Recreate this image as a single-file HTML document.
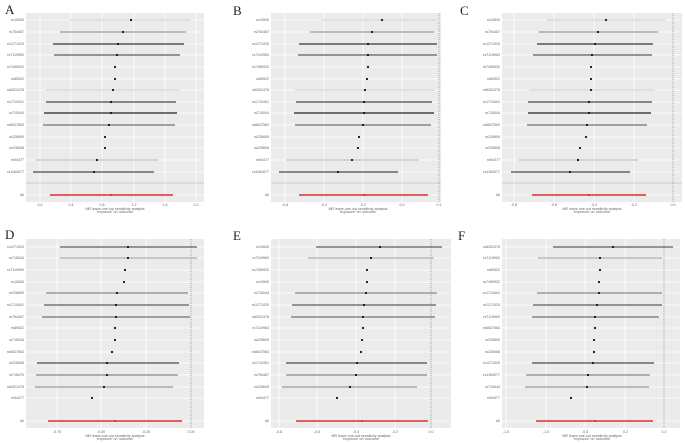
<!DOCTYPE html>
<html><head><meta charset="utf-8"><style>
html,body{margin:0;padding:0;background:#fff;width:685px;height:443px;overflow:hidden}
text{font-family:"Liberation Sans",sans-serif}
.l{font-size:3.6px;fill:#666;text-anchor:end}
.t{font-size:3.6px;fill:#666;text-anchor:middle}
.h{font-family:"Liberation Serif",serif;font-size:13px;fill:#222}
.g line{stroke:#fff;stroke-width:0.8}
.d{stroke:#888;stroke-width:0.7;stroke-dasharray:1,1}
.s{stroke:#ccc;stroke-width:1}
.c{stroke-width:1.4}
</style></head><body>
<svg width="685" height="443" viewBox="0 0 685 443" xmlns="http://www.w3.org/2000/svg">
<text class="h" x="5" y="14">A</text>
<text class="h" x="233" y="15">B</text>
<text class="h" x="460" y="15">C</text>
<text class="h" x="5" y="239">D</text>
<text class="h" x="233" y="240">E</text>
<text class="h" x="458" y="240">F</text>

<!-- Panel A -->
<g transform="translate(0,0)">
<rect x="26" y="13" width="178" height="189" fill="#ebebeb"/>
<g class="g"><line x1="40" y1="13" x2="40" y2="202"/><line x1="71" y1="13" x2="71" y2="202"/><line x1="102" y1="13" x2="102" y2="202"/><line x1="134" y1="13" x2="134" y2="202"/><line x1="165" y1="13" x2="165" y2="202"/><line x1="196" y1="13" x2="196" y2="202"/>
<line x1="26" y1="20" x2="204" y2="20"/><line x1="26" y1="32" x2="204" y2="32"/><line x1="26" y1="44" x2="204" y2="44"/><line x1="26" y1="55" x2="204" y2="55"/><line x1="26" y1="67" x2="204" y2="67"/><line x1="26" y1="79" x2="204" y2="79"/><line x1="26" y1="90" x2="204" y2="90"/><line x1="26" y1="102" x2="204" y2="102"/><line x1="26" y1="113" x2="204" y2="113"/><line x1="26" y1="125" x2="204" y2="125"/><line x1="26" y1="137" x2="204" y2="137"/><line x1="26" y1="148" x2="204" y2="148"/><line x1="26" y1="160" x2="204" y2="160"/><line x1="26" y1="172" x2="204" y2="172"/><line x1="26" y1="195" x2="204" y2="195"/></g>
<line class="s" x1="26" y1="183" x2="204" y2="183"/>
<g class="c"><line x1="70" y1="20" x2="191" y2="20" stroke="#ddd"/><line x1="60" y1="32" x2="186" y2="32" stroke="#aaa"/><line x1="53" y1="44" x2="184" y2="44" stroke="#555"/><line x1="54" y1="55" x2="180" y2="55" stroke="#777"/><line x1="46" y1="90" x2="180" y2="90" stroke="#ddd"/><line x1="46" y1="102" x2="176" y2="102" stroke="#666"/><line x1="44" y1="113" x2="177" y2="113" stroke="#444"/><line x1="43" y1="125" x2="175" y2="125" stroke="#888"/><line x1="36" y1="160" x2="158" y2="160" stroke="#ccc"/><line x1="33" y1="172" x2="154" y2="172" stroke="#666"/><line x1="50" y1="195" x2="173" y2="195" stroke="#d33"/></g>
<g fill="#111"><circle cx="131" cy="20" r="1.1"/><circle cx="123" cy="32" r="1.1"/><circle cx="118" cy="44" r="1.1"/><circle cx="117" cy="55" r="1.1"/><circle cx="115" cy="67" r="1.1"/><circle cx="115" cy="79" r="1.1"/><circle cx="113" cy="90" r="1.1"/><circle cx="111" cy="102" r="1.1"/><circle cx="111" cy="113" r="1.1"/><circle cx="109" cy="125" r="1.1"/><circle cx="105" cy="137" r="1.1"/><circle cx="105" cy="148" r="1.1"/><circle cx="97" cy="160" r="1.1"/><circle cx="94" cy="172" r="1.1"/><circle cx="111" cy="195" r="1.1" fill="#d33"/></g>
<text class="l" x="24" y="21">rs10840</text><text class="l" x="24" y="33">rs754467</text><text class="l" x="24" y="45">rs1271020</text><text class="l" x="24" y="56">rs7119963</text><text class="l" x="24" y="68">rs7455932</text><text class="l" x="24" y="80">rs89522</text><text class="l" x="24" y="91">rs6322476</text><text class="l" x="24" y="103">rs1710401</text><text class="l" x="24" y="114">rs715044</text><text class="l" x="24" y="126">rs6637563</text><text class="l" x="24" y="138">rs226609</text><text class="l" x="24" y="149">rs226608</text><text class="l" x="24" y="161">rs94477</text><text class="l" x="24" y="173">rs1164077</text><text class="l" x="24" y="196">All</text>
<text class="t" x="40" y="206">0.0</text><text class="t" x="71" y="206">0.4</text><text class="t" x="102" y="206">0.8</text><text class="t" x="134" y="206">1.2</text><text class="t" x="165" y="206">1.6</text><text class="t" x="196" y="206">2.0</text>
<text class="t" x="115" y="210">MR leave-one-out sensitivity analysis</text><text class="t" x="115" y="213">'exposure' on 'outcome'</text>
</g>

<!-- Panel B -->
<g transform="translate(228,0)">
<rect x="43" y="13" width="170" height="189" fill="#ebebeb"/>
<g class="g"><line x1="57" y1="13" x2="57" y2="202"/><line x1="96" y1="13" x2="96" y2="202"/><line x1="135" y1="13" x2="135" y2="202"/><line x1="174" y1="13" x2="174" y2="202"/>
<line x1="43" y1="20" x2="213" y2="20"/><line x1="43" y1="32" x2="213" y2="32"/><line x1="43" y1="44" x2="213" y2="44"/><line x1="43" y1="55" x2="213" y2="55"/><line x1="43" y1="67" x2="213" y2="67"/><line x1="43" y1="79" x2="213" y2="79"/><line x1="43" y1="90" x2="213" y2="90"/><line x1="43" y1="102" x2="213" y2="102"/><line x1="43" y1="113" x2="213" y2="113"/><line x1="43" y1="125" x2="213" y2="125"/><line x1="43" y1="137" x2="213" y2="137"/><line x1="43" y1="148" x2="213" y2="148"/><line x1="43" y1="160" x2="213" y2="160"/><line x1="43" y1="172" x2="213" y2="172"/><line x1="43" y1="195" x2="213" y2="195"/></g>
<line class="s" x1="43" y1="183" x2="213" y2="183"/>
<line class="d" x1="211" y1="13" x2="211" y2="202"/>
<g class="c"><line x1="93" y1="20" x2="209" y2="20" stroke="#ddd"/><line x1="82" y1="32" x2="206" y2="32" stroke="#aaa"/><line x1="71" y1="44" x2="209" y2="44" stroke="#555"/><line x1="70" y1="55" x2="209" y2="55" stroke="#777"/><line x1="67" y1="90" x2="206" y2="90" stroke="#ddd"/><line x1="68" y1="102" x2="204" y2="102" stroke="#666"/><line x1="66" y1="113" x2="206" y2="113" stroke="#444"/><line x1="67" y1="125" x2="203" y2="125" stroke="#888"/><line x1="58" y1="160" x2="191" y2="160" stroke="#ccc"/><line x1="51" y1="172" x2="170" y2="172" stroke="#666"/><line x1="71" y1="195" x2="200" y2="195" stroke="#d33"/></g>
<g fill="#111"><circle cx="154" cy="20" r="1.1"/><circle cx="144" cy="32" r="1.1"/><circle cx="140" cy="44" r="1.1"/><circle cx="140" cy="55" r="1.1"/><circle cx="140" cy="67" r="1.1"/><circle cx="139" cy="79" r="1.1"/><circle cx="137" cy="90" r="1.1"/><circle cx="136" cy="102" r="1.1"/><circle cx="136" cy="113" r="1.1"/><circle cx="135" cy="125" r="1.1"/><circle cx="131" cy="137" r="1.1"/><circle cx="130" cy="148" r="1.1"/><circle cx="124" cy="160" r="1.1"/><circle cx="110" cy="172" r="1.1"/><circle cx="136" cy="195" r="1.1" fill="#d33"/></g>
<text class="l" x="41" y="21">rs10840</text><text class="l" x="41" y="33">rs754467</text><text class="l" x="41" y="45">rs1271020</text><text class="l" x="41" y="56">rs7119963</text><text class="l" x="41" y="68">rs7455932</text><text class="l" x="41" y="80">rs89522</text><text class="l" x="41" y="91">rs6322476</text><text class="l" x="41" y="103">rs1710401</text><text class="l" x="41" y="114">rs715044</text><text class="l" x="41" y="126">rs6637563</text><text class="l" x="41" y="138">rs226609</text><text class="l" x="41" y="149">rs226608</text><text class="l" x="41" y="161">rs94477</text><text class="l" x="41" y="173">rs1164077</text><text class="l" x="41" y="196">All</text>
<text class="t" x="57" y="206">-0.6</text><text class="t" x="96" y="206">-0.4</text><text class="t" x="135" y="206">-0.2</text><text class="t" x="174" y="206">0.0</text><text class="t" x="211" y="206">0.1</text>
<text class="t" x="130" y="210">MR leave-one-out sensitivity analysis</text><text class="t" x="130" y="213">'exposure' on 'outcome'</text>
</g>

<!-- Panel C -->
<g transform="translate(455,0)">
<rect x="47" y="13" width="180" height="189" fill="#ebebeb"/>
<g class="g"><line x1="59" y1="13" x2="59" y2="202"/><line x1="99" y1="13" x2="99" y2="202"/><line x1="139" y1="13" x2="139" y2="202"/><line x1="179" y1="13" x2="179" y2="202"/>
<line x1="47" y1="20" x2="227" y2="20"/><line x1="47" y1="32" x2="227" y2="32"/><line x1="47" y1="44" x2="227" y2="44"/><line x1="47" y1="55" x2="227" y2="55"/><line x1="47" y1="67" x2="227" y2="67"/><line x1="47" y1="79" x2="227" y2="79"/><line x1="47" y1="90" x2="227" y2="90"/><line x1="47" y1="102" x2="227" y2="102"/><line x1="47" y1="113" x2="227" y2="113"/><line x1="47" y1="125" x2="227" y2="125"/><line x1="47" y1="137" x2="227" y2="137"/><line x1="47" y1="148" x2="227" y2="148"/><line x1="47" y1="160" x2="227" y2="160"/><line x1="47" y1="172" x2="227" y2="172"/><line x1="47" y1="195" x2="227" y2="195"/></g>
<line class="s" x1="47" y1="183" x2="227" y2="183"/>
<line class="d" x1="218" y1="13" x2="218" y2="202"/>
<g class="c"><line x1="92" y1="20" x2="210" y2="20" stroke="#ddd"/><line x1="84" y1="32" x2="203" y2="32" stroke="#aaa"/><line x1="82" y1="44" x2="198" y2="44" stroke="#555"/><line x1="78" y1="55" x2="197" y2="55" stroke="#777"/><line x1="74" y1="90" x2="200" y2="90" stroke="#ddd"/><line x1="73" y1="102" x2="197" y2="102" stroke="#666"/><line x1="73" y1="113" x2="196" y2="113" stroke="#444"/><line x1="72" y1="125" x2="192" y2="125" stroke="#888"/><line x1="64" y1="160" x2="183" y2="160" stroke="#ccc"/><line x1="56" y1="172" x2="175" y2="172" stroke="#666"/><line x1="77" y1="195" x2="191" y2="195" stroke="#d33"/></g>
<g fill="#111"><circle cx="151" cy="20" r="1.1"/><circle cx="143" cy="32" r="1.1"/><circle cx="140" cy="44" r="1.1"/><circle cx="137" cy="55" r="1.1"/><circle cx="136" cy="67" r="1.1"/><circle cx="136" cy="79" r="1.1"/><circle cx="136" cy="90" r="1.1"/><circle cx="134" cy="102" r="1.1"/><circle cx="134" cy="113" r="1.1"/><circle cx="132" cy="125" r="1.1"/><circle cx="131" cy="137" r="1.1"/><circle cx="125" cy="148" r="1.1"/><circle cx="123" cy="160" r="1.1"/><circle cx="115" cy="172" r="1.1"/><circle cx="134" cy="195" r="1.1" fill="#d33"/></g>
<text class="l" x="45" y="21">rs10840</text><text class="l" x="45" y="33">rs754467</text><text class="l" x="45" y="45">rs1271020</text><text class="l" x="45" y="56">rs7119963</text><text class="l" x="45" y="68">rs7455932</text><text class="l" x="45" y="80">rs89522</text><text class="l" x="45" y="91">rs6322476</text><text class="l" x="45" y="103">rs1710401</text><text class="l" x="45" y="114">rs715044</text><text class="l" x="45" y="126">rs6637563</text><text class="l" x="45" y="138">rs226609</text><text class="l" x="45" y="149">rs226608</text><text class="l" x="45" y="161">rs94477</text><text class="l" x="45" y="173">rs1164077</text><text class="l" x="45" y="196">All</text>
<text class="t" x="59" y="206">-0.8</text><text class="t" x="99" y="206">-0.6</text><text class="t" x="139" y="206">-0.4</text><text class="t" x="179" y="206">-0.2</text><text class="t" x="218" y="206">0.0</text>
<text class="t" x="137" y="210">MR leave-one-out sensitivity analysis</text><text class="t" x="137" y="213">'exposure' on 'outcome'</text>
</g>

<!-- Panel D -->
<g transform="translate(0,225)">
<rect x="26" y="14" width="178" height="189" fill="#ebebeb"/>
<g class="g"><line x1="57" y1="14" x2="57" y2="203"/><line x1="101" y1="14" x2="101" y2="203"/><line x1="146" y1="14" x2="146" y2="203"/>
<line x1="26" y1="22" x2="204" y2="22"/><line x1="26" y1="33" x2="204" y2="33"/><line x1="26" y1="45" x2="204" y2="45"/><line x1="26" y1="57" x2="204" y2="57"/><line x1="26" y1="68" x2="204" y2="68"/><line x1="26" y1="80" x2="204" y2="80"/><line x1="26" y1="92" x2="204" y2="92"/><line x1="26" y1="103" x2="204" y2="103"/><line x1="26" y1="115" x2="204" y2="115"/><line x1="26" y1="127" x2="204" y2="127"/><line x1="26" y1="138" x2="204" y2="138"/><line x1="26" y1="150" x2="204" y2="150"/><line x1="26" y1="162" x2="204" y2="162"/><line x1="26" y1="173" x2="204" y2="173"/><line x1="26" y1="196" x2="204" y2="196"/></g>
<line class="d" x1="191" y1="14" x2="191" y2="203"/>
<g class="c"><line x1="60" y1="22" x2="197" y2="22" stroke="#777"/><line x1="60" y1="33" x2="197" y2="33" stroke="#bbb"/><line x1="46" y1="68" x2="188" y2="68" stroke="#999"/><line x1="44" y1="80" x2="189" y2="80" stroke="#777"/><line x1="42" y1="92" x2="190" y2="92" stroke="#888"/><line x1="37" y1="138" x2="179" y2="138" stroke="#666"/><line x1="36" y1="150" x2="178" y2="150" stroke="#999"/><line x1="35" y1="162" x2="173" y2="162" stroke="#aaa"/><line x1="48" y1="196" x2="182" y2="196" stroke="#d33"/></g>
<g fill="#111"><circle cx="128" cy="22" r="1.1"/><circle cx="128" cy="33" r="1.1"/><circle cx="125" cy="45" r="1.1"/><circle cx="124" cy="57" r="1.1"/><circle cx="117" cy="68" r="1.1"/><circle cx="116" cy="80" r="1.1"/><circle cx="116" cy="92" r="1.1"/><circle cx="115" cy="103" r="1.1"/><circle cx="115" cy="115" r="1.1"/><circle cx="112" cy="127" r="1.1"/><circle cx="107" cy="138" r="1.1"/><circle cx="107" cy="150" r="1.1"/><circle cx="104" cy="162" r="1.1"/><circle cx="92" cy="173" r="1.1"/><circle cx="115" cy="196" r="1.1" fill="#d33"/></g>
<text class="l" x="24" y="23">rs1271020</text><text class="l" x="24" y="34">rs715044</text><text class="l" x="24" y="46">rs7119963</text><text class="l" x="24" y="58">rs10840</text><text class="l" x="24" y="69">rs226609</text><text class="l" x="24" y="81">rs1710401</text><text class="l" x="24" y="93">rs754467</text><text class="l" x="24" y="104">rs89522</text><text class="l" x="24" y="116">rs715044</text><text class="l" x="24" y="128">rs6637563</text><text class="l" x="24" y="139">rs226608</text><text class="l" x="24" y="151">rs718470</text><text class="l" x="24" y="163">rs6322476</text><text class="l" x="24" y="174">rs94477</text><text class="l" x="24" y="197">All</text>
<text class="t" x="57" y="208">-0.75</text><text class="t" x="101" y="208">-0.50</text><text class="t" x="146" y="208">-0.25</text><text class="t" x="191" y="208">0.00</text>
<text class="t" x="115" y="212">MR leave-one-out sensitivity analysis</text><text class="t" x="115" y="215">'exposure' on 'outcome'</text>
</g>

<!-- Panel E -->
<g transform="translate(228,225)">
<rect x="43" y="14" width="180" height="189" fill="#ebebeb"/>
<g class="g"><line x1="51" y1="14" x2="51" y2="203"/><line x1="89" y1="14" x2="89" y2="203"/><line x1="128" y1="14" x2="128" y2="203"/><line x1="167" y1="14" x2="167" y2="203"/>
<line x1="43" y1="22" x2="223" y2="22"/><line x1="43" y1="33" x2="223" y2="33"/><line x1="43" y1="45" x2="223" y2="45"/><line x1="43" y1="57" x2="223" y2="57"/><line x1="43" y1="68" x2="223" y2="68"/><line x1="43" y1="80" x2="223" y2="80"/><line x1="43" y1="92" x2="223" y2="92"/><line x1="43" y1="103" x2="223" y2="103"/><line x1="43" y1="115" x2="223" y2="115"/><line x1="43" y1="127" x2="223" y2="127"/><line x1="43" y1="138" x2="223" y2="138"/><line x1="43" y1="150" x2="223" y2="150"/><line x1="43" y1="162" x2="223" y2="162"/><line x1="43" y1="173" x2="223" y2="173"/><line x1="43" y1="196" x2="223" y2="196"/></g>
<line class="d" x1="203" y1="14" x2="203" y2="203"/>
<g class="c"><line x1="88" y1="22" x2="214" y2="22" stroke="#777"/><line x1="80" y1="33" x2="206" y2="33" stroke="#bbb"/><line x1="67" y1="68" x2="209" y2="68" stroke="#999"/><line x1="64" y1="80" x2="208" y2="80" stroke="#777"/><line x1="63" y1="92" x2="207" y2="92" stroke="#888"/><line x1="58" y1="138" x2="199" y2="138" stroke="#666"/><line x1="58" y1="150" x2="199" y2="150" stroke="#999"/><line x1="54" y1="162" x2="189" y2="162" stroke="#aaa"/><line x1="68" y1="196" x2="200" y2="196" stroke="#d33"/></g>
<g fill="#111"><circle cx="152" cy="22" r="1.1"/><circle cx="143" cy="33" r="1.1"/><circle cx="139" cy="45" r="1.1"/><circle cx="139" cy="57" r="1.1"/><circle cx="138" cy="68" r="1.1"/><circle cx="136" cy="80" r="1.1"/><circle cx="135" cy="92" r="1.1"/><circle cx="135" cy="103" r="1.1"/><circle cx="134" cy="115" r="1.1"/><circle cx="133" cy="127" r="1.1"/><circle cx="129" cy="138" r="1.1"/><circle cx="128" cy="150" r="1.1"/><circle cx="122" cy="162" r="1.1"/><circle cx="109" cy="173" r="1.1"/><circle cx="134" cy="196" r="1.1" fill="#d33"/></g>
<text class="l" x="41" y="23">rs10840</text><text class="l" x="41" y="34">rs7119963</text><text class="l" x="41" y="46">rs7455932</text><text class="l" x="41" y="58">rs10840</text><text class="l" x="41" y="69">rs715044</text><text class="l" x="41" y="81">rs1271020</text><text class="l" x="41" y="93">rs6322476</text><text class="l" x="41" y="104">rs7119963</text><text class="l" x="41" y="116">rs226609</text><text class="l" x="41" y="128">rs6637563</text><text class="l" x="41" y="139">rs1710401</text><text class="l" x="41" y="151">rs754467</text><text class="l" x="41" y="163">rs226608</text><text class="l" x="41" y="174">rs94477</text><text class="l" x="41" y="197">All</text>
<text class="t" x="51" y="208">-0.8</text><text class="t" x="89" y="208">-0.6</text><text class="t" x="128" y="208">-0.4</text><text class="t" x="167" y="208">-0.2</text><text class="t" x="203" y="208">0.0</text>
<text class="t" x="133" y="212">MR leave-one-out sensitivity analysis</text><text class="t" x="133" y="215">'exposure' on 'outcome'</text>
</g>

<!-- Panel F -->
<g transform="translate(455,225)">
<rect x="47" y="14" width="178" height="189" fill="#ebebeb"/>
<g class="g"><line x1="51" y1="14" x2="51" y2="203"/><line x1="91" y1="14" x2="91" y2="203"/><line x1="130" y1="14" x2="130" y2="203"/><line x1="170" y1="14" x2="170" y2="203"/>
<line x1="47" y1="22" x2="225" y2="22"/><line x1="47" y1="33" x2="225" y2="33"/><line x1="47" y1="45" x2="225" y2="45"/><line x1="47" y1="57" x2="225" y2="57"/><line x1="47" y1="68" x2="225" y2="68"/><line x1="47" y1="80" x2="225" y2="80"/><line x1="47" y1="92" x2="225" y2="92"/><line x1="47" y1="103" x2="225" y2="103"/><line x1="47" y1="115" x2="225" y2="115"/><line x1="47" y1="127" x2="225" y2="127"/><line x1="47" y1="138" x2="225" y2="138"/><line x1="47" y1="150" x2="225" y2="150"/><line x1="47" y1="162" x2="225" y2="162"/><line x1="47" y1="173" x2="225" y2="173"/><line x1="47" y1="196" x2="225" y2="196"/></g>
<line class="d" x1="209" y1="14" x2="209" y2="203"/>
<g class="c"><line x1="98" y1="22" x2="218" y2="22" stroke="#777"/><line x1="83" y1="33" x2="207" y2="33" stroke="#bbb"/><line x1="82" y1="68" x2="207" y2="68" stroke="#999"/><line x1="78" y1="80" x2="207" y2="80" stroke="#777"/><line x1="77" y1="92" x2="204" y2="92" stroke="#888"/><line x1="77" y1="138" x2="199" y2="138" stroke="#666"/><line x1="71" y1="150" x2="195" y2="150" stroke="#999"/><line x1="70" y1="162" x2="194" y2="162" stroke="#aaa"/><line x1="81" y1="196" x2="198" y2="196" stroke="#d33"/></g>
<g fill="#111"><circle cx="158" cy="22" r="1.1"/><circle cx="145" cy="33" r="1.1"/><circle cx="145" cy="45" r="1.1"/><circle cx="144" cy="57" r="1.1"/><circle cx="144" cy="68" r="1.1"/><circle cx="142" cy="80" r="1.1"/><circle cx="140" cy="92" r="1.1"/><circle cx="140" cy="103" r="1.1"/><circle cx="139" cy="115" r="1.1"/><circle cx="139" cy="127" r="1.1"/><circle cx="138" cy="138" r="1.1"/><circle cx="133" cy="150" r="1.1"/><circle cx="132" cy="162" r="1.1"/><circle cx="116" cy="173" r="1.1"/><circle cx="140" cy="196" r="1.1" fill="#d33"/></g>
<text class="l" x="45" y="23">rs6322476</text><text class="l" x="45" y="34">rs7119963</text><text class="l" x="45" y="46">rs89522</text><text class="l" x="45" y="58">rs7455932</text><text class="l" x="45" y="69">rs1710401</text><text class="l" x="45" y="81">rs1271020</text><text class="l" x="45" y="93">rs7119963</text><text class="l" x="45" y="104">rs6637563</text><text class="l" x="45" y="116">rs226609</text><text class="l" x="45" y="128">rs226608</text><text class="l" x="45" y="139">rs1271020</text><text class="l" x="45" y="151">rs1164077</text><text class="l" x="45" y="163">rs715044</text><text class="l" x="45" y="174">rs94477</text><text class="l" x="45" y="197">All</text>
<text class="t" x="51" y="208">-1.5</text><text class="t" x="91" y="208">-1.0</text><text class="t" x="130" y="208">-0.5</text><text class="t" x="170" y="208">-0.2</text><text class="t" x="209" y="208">0.0</text>
<text class="t" x="137" y="212">MR leave-one-out sensitivity analysis</text><text class="t" x="137" y="215">'exposure' on 'outcome'</text>
</g>
</svg>
</body></html>
